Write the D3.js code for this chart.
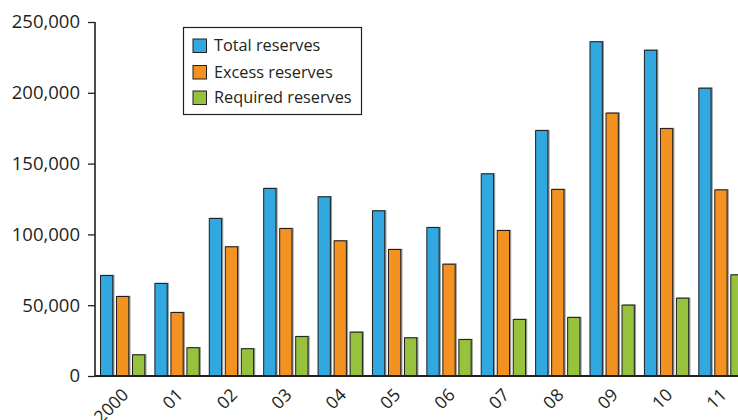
<!DOCTYPE html>
<html><head><meta charset="utf-8">
<script src="https://cdn.jsdelivr.net/npm/d3@7"></script>
<style>
html,body{margin:0;padding:0;background:#fff;overflow:hidden}
svg{display:block;font-family:"Open Sans",sans-serif}
</style></head>
<body><svg id="c" width="738" height="420"></svg>
<script>
const categories = ["2000","01","02","03","04","05","06","07","08","09","10","11"];
const seriesNames = ["Total reserves","Excess reserves","Required reserves"];
const totalReserves = [71300,65700,111600,132800,126900,117000,105200,143100,173700,236400,230400,203600];
const excessReserves = [56500,45200,91600,104500,95800,89700,79300,103100,132100,186000,175100,131800];
const requiredReserves = [15300,20300,19600,28200,31300,27300,26100,40300,41700,50400,55300,71800];
const yTicks = [0,50000,100000,150000,200000,250000];
const colors = ["#31a8df","#f39121","#97c23d"];

const values = [totalReserves, excessReserves, requiredReserves];
const data = categories.map((c,i)=>({cat:c, vals: seriesNames.map((s,j)=>({name:s, v: values[j][i], j}))}));

const svg = d3.select("#c");
const axisX = 95, baseY = 376, topY = 22;
const step = 54.39, pi = 0.167, po = 0.092;
const x = d3.scaleBand().domain(categories)
  .range([axisX, axisX + step*(categories.length - pi + 2*po)])
  .paddingInner(pi).paddingOuter(po);
const xs = d3.scaleBand().domain(seriesNames).range([0, x.bandwidth()]).paddingInner(0.17);
const y = d3.scaleLinear().domain([0,250000]).range([baseY, topY]);

const ink = "#231f20";

// bars
const g = svg.append("g");
const groups = g.selectAll("g.grp").data(data).join("g")
  .attr("transform", d=>`translate(${x(d.cat)},0)`);
groups.selectAll("rect.shadow").data(d=>d.vals).join("rect")
  .attr("x", d=>xs(d.name)+1.2).attr("y", d=>y(d.v)-0.3)
  .attr("width", xs.bandwidth()).attr("height", d=>baseY - y(d.v))
  .attr("fill","#9a9a9a");
groups.selectAll("rect.bar").data(d=>d.vals).join("rect")
  .attr("x", d=>xs(d.name)+0.5).attr("y", d=>y(d.v)+0.5)
  .attr("width", xs.bandwidth()-1).attr("height", d=>baseY - y(d.v))
  .attr("fill", d=>colors[d.j]).attr("stroke", "#1e1e1e").attr("stroke-width",1);

// y axis
const yAxis = d3.axisLeft(y).tickValues(yTicks).tickFormat(d3.format(",")).tickSize(7).tickPadding(8);
const ya = svg.append("g").attr("transform",`translate(${axisX},0)`).call(yAxis);
ya.select(".domain").attr("stroke",ink).attr("stroke-width",1.6).attr("d",`M0,${topY}V${baseY}`);
ya.selectAll(".tick line").attr("stroke",ink).attr("stroke-width",1.3);
ya.selectAll(".tick text").attr("fill",ink).style("font-size","18.5px").style("font-family","'Open Sans',sans-serif");

// x axis
const xAxis = d3.axisBottom(x).tickSize(0).tickPadding(0);
const xa = svg.append("g").attr("transform",`translate(0,${baseY})`).call(xAxis);
xa.select(".domain").attr("stroke",ink).attr("stroke-width",2).attr("d",`M${axisX},0H738`);
xa.selectAll(".tick text")
  .attr("fill",ink).style("font-size","17.5px").style("font-family","'Open Sans',sans-serif")
  .attr("text-anchor","end").attr("dy","0")
  .attr("transform","translate(7,20) rotate(-45)");

// legend
const lg = svg.append("g");
lg.append("rect").attr("x",183.5).attr("y",27.5).attr("width",178).attr("height",87)
  .attr("fill","#fff").attr("stroke",ink).attr("stroke-width",1.2);
const rowsY = [39, 65.5, 91];
seriesNames.forEach((s,j)=>{
  lg.append("rect").attr("x",193).attr("y",rowsY[j]).attr("width",13.5).attr("height",13.5)
    .attr("fill",colors[j]).attr("stroke",ink).attr("stroke-width",1);
  lg.append("text").attr("x",214).attr("y",rowsY[j]+12).text(s)
    .attr("fill",ink).style("font-size","16.3px");
});
</script></body></html>
